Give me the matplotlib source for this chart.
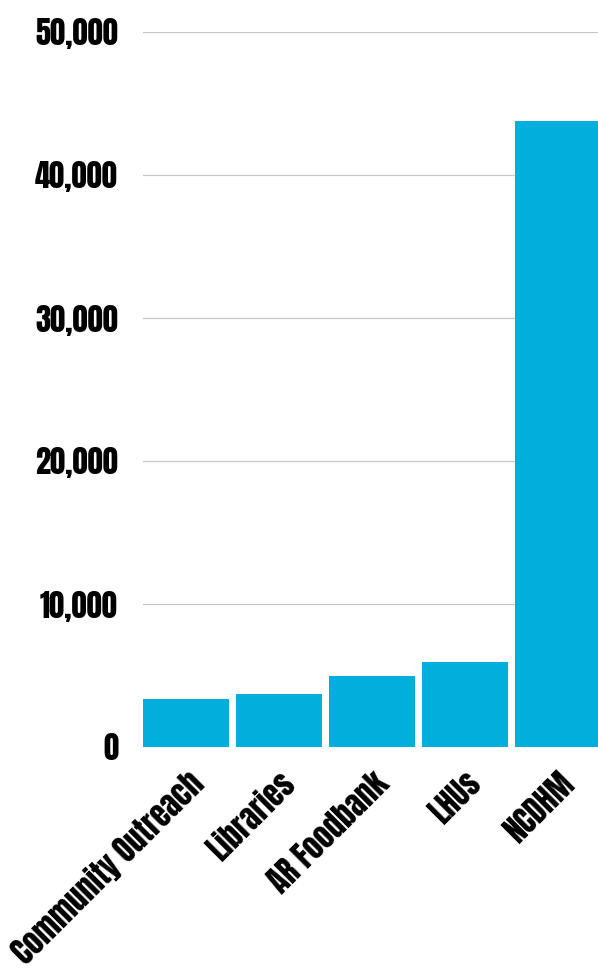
import matplotlib.pyplot as plt
from matplotlib.ticker import FuncFormatter

plt.rcParams['font.family'] = ['Anton', 'Oswald', 'DejaVu Sans']

# Data
categories = ['Community Outreach', 'Libraries', 'AR Foodbank', 'LHUs', 'NCDHM']
values = [3350, 3700, 4970, 5950, 43780]
yticks = [0, 10000, 20000, 30000, 40000, 50000]

bar_color = '#02AEDC'

fig = plt.figure(figsize=(5.98, 9.69), dpi=100, facecolor='white')
ax = fig.add_axes([143 / 598, 1 - 747 / 969, 1 - 143 / 598, (747 - 32) / 969])

x = range(len(categories))
ax.bar(x, values, width=0.925, color=bar_color, zorder=2)

ax.set_ylim(0, 50000)
ax.set_xlim(-0.4625, 4.43)
ax.set_yticks(yticks)
ax.yaxis.set_major_formatter(FuncFormatter(lambda v, p: f'{int(v):,}'))
ax.grid(axis='y', color='#c8c8c8', linewidth=0.9, zorder=0)

ax.set_xticks(list(x))
ax.set_xticklabels(categories, rotation=45, ha='right', rotation_mode='anchor', fontsize=22)
ax.tick_params(axis='x', length=0, pad=14)
ax.tick_params(axis='y', length=0, pad=18, labelsize=22)

for s in ax.spines.values():
    s.set_visible(False)

fig.savefig('out.png', dpi=100, facecolor='white')
